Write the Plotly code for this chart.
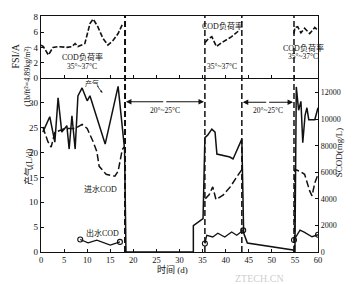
import plotly.graph_objects as go

# ---------------- data ----------------
# top panel: COD loading rate (FSI/A), three operating periods
load_days1 = [0, 0.5, 1.6, 2.0, 2.6, 3.7, 5.6, 6.7, 7.4, 8.0, 9.5, 10.6, 11.3, 12.3, 13.4, 14.5, 15.6, 16.7, 17.7]
load_vals1 = [4.3, 4.1, 3.0, 3.4, 4.0, 4.1, 4.0, 4.1, 4.5, 4.1, 4.5, 7.1, 7.7, 6.7, 5.2, 4.3, 4.9, 5.8, 7.1]
load_days2 = [35.5, 36.2, 37.0, 37.7, 38.0, 39.1, 40.2, 41.3, 43.1]
load_vals2 = [4.6, 5.1, 5.4, 4.6, 4.1, 4.6, 5.0, 5.4, 6.3]
load_days3 = [54.8, 55.0, 55.6, 56.3, 57.1, 58.2, 59.3, 60.0]
load_vals3 = [5.8, 6.6, 6.7, 5.9, 6.5, 5.8, 6.6, 6.2]

# bottom panel: gas production (L/d), left axis
gas_days = [0.4, 1.9, 3.0, 3.7, 4.5, 5.6, 6.1, 6.7, 7.4, 8.0, 8.9, 10.0, 10.6, 13.9, 16.7, 18.1, 18.4,
            33.0, 33.0, 35.1, 35.5, 36.1, 37.0, 37.7, 38.1, 40.9, 41.6, 43.5, 43.9, 44.7, 54.6,
            55.0, 55.3, 55.8, 56.3, 56.7, 57.2, 57.6, 58.0, 59.3, 60.0]
gas_vals = [24.1, 27.2, 22.1, 31.0, 24.1, 25.4, 20.7, 27.4, 20.7, 31.4, 33.0, 30.4, 31.4, 21.7, 33.3, 20.7, 0,
            0, 5.3, 6.7, 23.0, 23.5, 24.7, 24.1, 19.7, 19.1, 18.7, 22.7, 3.8, 1.8, 0.4,
            0, 33.2, 28.5, 30.3, 22.0, 27.5, 29.0, 26.6, 26.6, 29.0]

# influent SCOD (mg/L), right axis
inf_days = [0.4, 1.5, 2.2, 3.0, 5.2, 7.4, 8.9, 10.0, 11.3, 12.1, 12.6, 14.1, 16.0, 16.7, 17.6, 18.0, None,
            35.6, 36.4, 37.2, 37.9, 39.5, 41.0, 42.3, 43.5, None,
            54.9, 55.0, 56.1, 57.1, 58.2, 58.7, 59.3, 60.0]
inf_vals = [9400, 8300, 7900, 9000, 9300, 9300, 9600, 9300, 8300, 7550, 6450, 5850, 5700, 6070, 7700, 7900, None,
            4000, 4300, 4900, 3950, 4300, 4900, 5600, 6200, None,
            0, 6220, 6070, 5850, 4600, 4220, 5190, 5850]

# effluent SCOD (mg/L), right axis
eff_days = [8.5, 10.2, 12.1, 15.0, 17.1, None,
            35.5, 35.9, 37.2, 38.3, 39.8, 41.3, 42.4, 43.8, None,
            54.8, 56.1, 57.0, 58.7, 60.0]
eff_vals = [940, 690, 890, 520, 760, None,
            640, 1260, 1130, 1410, 1130, 1500, 1260, 1630, None,
            900, 1650, 1500, 1150, 1300]

# period boundaries (days)
boundaries = [18.2, 35.5, 43.5, 54.8]

x_ticks = list(range(0, 61, 5))
gas_ticks = [0, 5, 10, 15, 20, 25, 30]
scod_ticks = [0, 2000, 4000, 6000, 8000, 10000, 12000]
load_ticks = [0, 2, 4, 6, 8]

# ---------------- figure ----------------
FONT = "Liberation Serif, Noto Sans CJK SC, serif"
BLK = "#111111"

fig = go.Figure()

def seg_join(ds_list, vs_list):
    xs, ys = [], []
    for i, (d, v) in enumerate(zip(ds_list, vs_list)):
        if i:
            xs.append(None); ys.append(None)
        xs += d; ys += v
    return xs, ys

lx, ly = seg_join([load_days1, load_days2, load_days3], [load_vals1, load_vals2, load_vals3])
fig.add_trace(go.Scatter(x=lx, y=ly, mode="lines", xaxis="x2", yaxis="y3",
                         line=dict(color=BLK, width=1.6, dash="5px,2px"), connectgaps=False))

fig.add_trace(go.Scatter(x=gas_days, y=gas_vals, mode="lines", xaxis="x", yaxis="y",
                         line=dict(color=BLK, width=1.5)))

fig.add_trace(go.Scatter(x=inf_days, y=inf_vals, mode="lines", xaxis="x", yaxis="y2",
                         line=dict(color=BLK, width=1.5, dash="7px,3px"), connectgaps=False))

fig.add_trace(go.Scatter(x=eff_days, y=eff_vals, mode="lines", xaxis="x", yaxis="y2",
                         line=dict(color=BLK, width=1.3), connectgaps=False))

# circles at the ends of each effluent segment
ends_x, ends_y = [], []
seg_x, seg_y = [], []
for d, v in list(zip(eff_days, eff_vals)) + [(None, None)]:
    if d is None:
        if seg_x:
            ends_x += [seg_x[0], seg_x[-1]]
            ends_y += [seg_y[0], seg_y[-1]]
        seg_x, seg_y = [], []
    else:
        seg_x.append(d); seg_y.append(v)
fig.add_trace(go.Scatter(x=ends_x, y=ends_y, mode="markers", xaxis="x", yaxis="y2",
                         marker=dict(symbol="circle-open", size=5, color=BLK, line=dict(width=1.1))))

# vertical dashed period boundaries through both panels
for i, b in enumerate(boundaries):
    fig.add_shape(type="line", xref="x", yref="paper", x0=b, x1=b, y0=0, y1=1,
                  line=dict(color=BLK, width=2.0 if i == 0 else 1.5, dash="6px,3px"))

tick_font = dict(family=FONT, size=9, color=BLK)
fig.update_layout(
    width=360, height=284,
    margin=dict(l=41, r=42, t=12, b=32),
    paper_bgcolor="white", plot_bgcolor="white",
    showlegend=False,
    xaxis=dict(domain=[0, 1], range=[0, 60], anchor="y", tickvals=x_ticks,
               showline=True, linecolor=BLK, linewidth=1.3, ticks="inside", ticklen=3,
               tickcolor=BLK, showgrid=False, zeroline=False,
               tickfont=dict(family=FONT, size=8.5, color=BLK)),
    yaxis=dict(domain=[0, 0.7375], range=[0, 35], anchor="x", tickvals=gas_ticks,
               showline=True, linecolor=BLK, linewidth=1.3, ticks="inside", ticklen=3,
               tickcolor=BLK, showgrid=False, zeroline=False, tickfont=tick_font),
    yaxis2=dict(range=[0, 13100], anchor="x", overlaying="y", side="right",
                tickvals=scod_ticks, ticktext=[str(t) for t in scod_ticks],
                showline=True, linecolor=BLK, linewidth=1.3, ticks="inside", ticklen=3,
                tickcolor=BLK, showgrid=False, zeroline=False,
                tickfont=dict(family=FONT, size=8, color=BLK)),
    xaxis2=dict(domain=[0, 1], range=[0, 60], anchor="y3", tickvals=x_ticks, showticklabels=False,
                showline=True, mirror=True, linecolor=BLK, linewidth=1.3, ticks="inside", ticklen=3,
                tickcolor=BLK, showgrid=False, zeroline=False),
    yaxis3=dict(domain=[0.7375, 1], range=[0, 8.1], anchor="x2", tickvals=load_ticks,
                showline=True, mirror=True, linecolor=BLK, linewidth=1.3, ticks="inside", ticklen=3,
                tickcolor=BLK, showgrid=False, zeroline=False, tickfont=tick_font),
)

def px_x(px):
    return (px - 41) / 277.0

def px_y(py):
    return (252 - py) / 240.0

ann = []
def txt(text, x, y, size=8, angle=0, xref="paper", yref="paper", color=BLK, **kw):
    ann.append(dict(text=text, x=x, y=y, xref=xref, yref=yref, showarrow=False,
                    textangle=angle, font=dict(family=FONT, size=size, color=color), **kw))

# axis titles
txt("FSI/A", px_x(8), px_y(38), size=10, angle=-90)
txt("(1b/ft²=4.89kg/m²)", px_x(21), px_y(40), size=8, angle=-90)
txt("产气(L/d)", px_x(21), px_y(165), size=9, angle=-90)
txt("SCOD(mg/L)", px_x(346), px_y(178), size=9, angle=-90)
txt("时间 (d)", px_x(172), px_y(276), size=9, borderpad=0)

# panel labels
txt("COD负荷率", 8.9, 2.75, size=8, xref="x2", yref="y3")
txt("35°~37°C", 8.9, 1.5, size=7.5, xref="x2", yref="y3")
txt("COD负荷率", 39.3, 6.8, size=8, xref="x2", yref="y3")
txt("35°~37°C", 39.3, 1.5, size=7.5, xref="x2", yref="y3")
txt("COD负荷率", 56.8, 3.95, size=8, xref="x2", yref="y3")
txt("35°~37°C", 56.8, 2.85, size=7.5, xref="x2", yref="y3")

txt("产气", 11.0, 33.8, size=7, xref="x", yref="y")
txt("进水COD", 12.8, 12.6, size=8, xref="x", yref="y")
txt("出水COD", 13.4, 3.9, size=8, xref="x", yref="y")
txt("20°~25°C", 26.8, 28.4, size=7.5, xref="x", yref="y")
txt("20°~25°C", 49.1, 28.4, size=7.5, xref="x", yref="y")

# double arrows for the 20-25 C periods
for (a, b, c, yv) in [(18.4, 35.3, 26.8, 30.2), (43.7, 54.6, 49.1, 30.1)]:
    for end in (a, b):
        ann.append(dict(x=end, y=yv, ax=c, ay=yv, xref="x", yref="y", axref="x", ayref="y",
                        text="", showarrow=True, arrowhead=2, arrowsize=1, arrowwidth=1.1,
                        arrowcolor=BLK))

# small arrow from the 产气 label
ann.append(dict(x=13.3, y=32.0, ax=12.0, ay=33.6, xref="x", yref="y", axref="x", ayref="y",
                text="", showarrow=True, arrowhead=2, arrowsize=0.6, arrowwidth=0.8, arrowcolor=BLK))

# watermark (kept clear of the tick labels and axis title)
txt("ZTECH.CN", px_x(285), px_y(279), size=10, color="rgba(170,170,170,0.6)",
    borderpad=0, yanchor="middle")

fig.update_layout(annotations=ann)

fig.write_html("out.html")
